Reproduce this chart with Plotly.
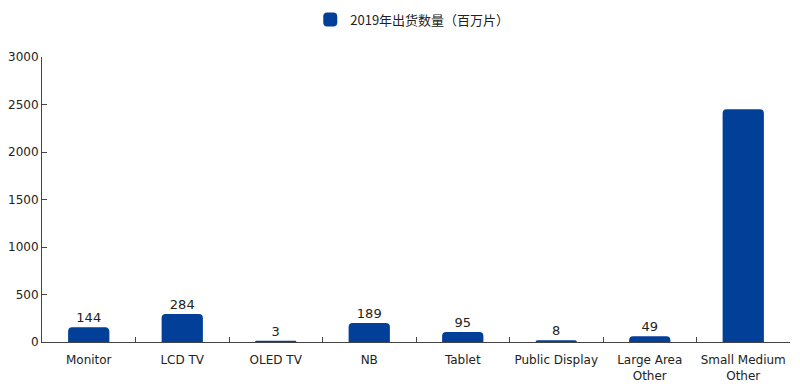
import plotly.graph_objects as go

categories = ["Monitor", "LCD TV", "OLED TV", "NB", "Tablet", "Public Display",
              "Large Area<br>Other", "Small Medium<br>Other"]
values = [144, 284, 3, 189, 95, 8, 49, 2440]
labels = ["144", "284", "3", "189", "95", "8", "49", ""]
series_name = "2019年出货数量（百万片）"

color = "#023F98"
tick_font = dict(family="Verdana, DejaVu Sans", size=12, color="#222")

fig = go.Figure()
fig.add_trace(go.Bar(
    x=categories, y=values, name=series_name,
    marker=dict(color=color, line=dict(color=color, width=2), cornerradius=3),
    width=0.42,
    text=labels, textposition="outside",
    textfont=dict(family="Verdana, DejaVu Sans", size=13, color="#222"),
    cliponaxis=False,
))

fig.update_layout(
    width=800, height=389,
    margin=dict(l=34, r=18, t=49, b=55),
    paper_bgcolor="white", plot_bgcolor="white",
    showlegend=True,
    legend=dict(orientation="h", x=0.495, xanchor="center", y=0.97, yanchor="middle",
                yref="container",
                font=dict(family="Noto Sans CJK SC", size=13, color="#222"),
                itemwidth=30),
    font=tick_font,
)
fig.update_xaxes(
    type="category", range=[-0.5, 7.5],
    showline=True, linecolor="#444", linewidth=1,
    ticks="inside", tickson="boundaries", ticklen=5, tickcolor="#444",
    showgrid=False, automargin=False, tickangle=0, ticklabelstandoff=7,
    tickfont=tick_font,
)
fig.update_yaxes(
    range=[0, 3000], dtick=500,
    showline=True, linecolor="#444", linewidth=1,
    ticks="inside", ticklen=5, tickcolor="#444",
    showgrid=False, zeroline=False, automargin=False,
    tickfont=tick_font,
)

fig.write_html("out.html")
